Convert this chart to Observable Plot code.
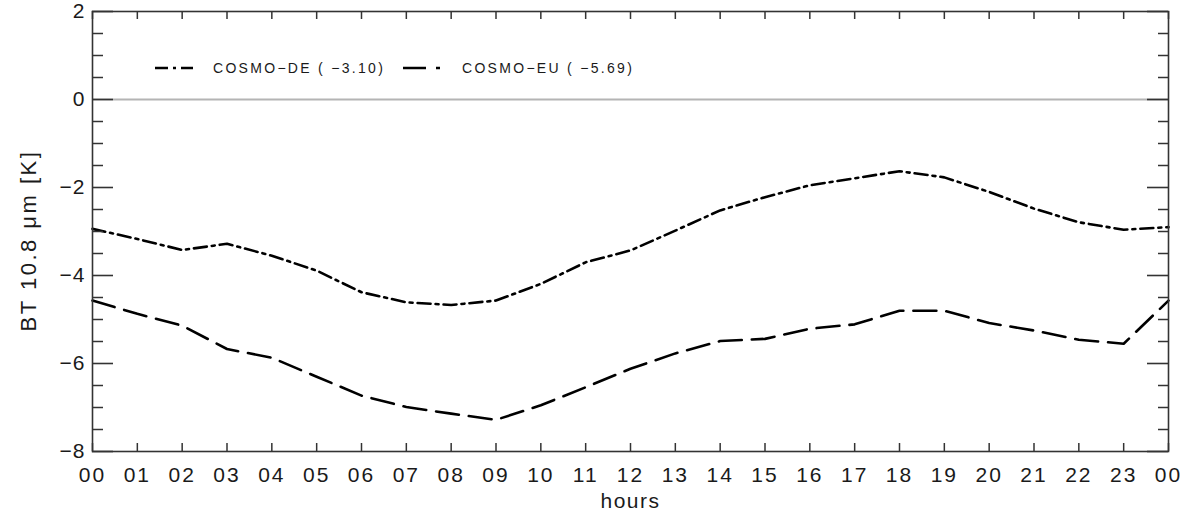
<!DOCTYPE html>
<html><head><meta charset="utf-8">
<script src="https://cdn.jsdelivr.net/npm/d3@7"></script>
<script src="https://cdn.jsdelivr.net/npm/@observablehq/plot@0.6"></script>
<style>body{margin:0;background:#fff} svg{display:block}</style>
</head><body><div id="chart"></div>
<script>
// ---- data ----
const hours = [0,1,2,3,4,5,6,7,8,9,10,11,12,13,14,15,16,17,18,19,20,21,22,23,24];
const hourLabels = ["00","01","02","03","04","05","06","07","08","09","10","11","12","13","14","15","16","17","18","19","20","21","22","23","00"];
const cosmoDE = [-2.94,-3.17,-3.42,-3.28,-3.55,-3.89,-4.38,-4.61,-4.67,-4.57,-4.19,-3.70,-3.43,-2.98,-2.52,-2.22,-1.95,-1.79,-1.63,-1.77,-2.10,-2.48,-2.79,-2.96,-2.90];
const cosmoEU = [-4.57,-4.87,-5.14,-5.67,-5.87,-6.30,-6.73,-6.99,-7.14,-7.28,-6.95,-6.54,-6.12,-5.77,-5.49,-5.44,-5.21,-5.11,-4.80,-4.80,-5.08,-5.25,-5.46,-5.55,-4.57];
const seriesNames = ["COSMO\u2212DE ( \u22123.10)", "COSMO\u2212EU ( \u22125.69)"];
const yMajorTicks = [-8,-6,-4,-2,0,2];
const yMinorTicks = [-7.5,-7,-6.5,-5.5,-5,-4.5,-3.5,-3,-2.5,-1.5,-1,-0.5,0.5,1,1.5];
const xLabel = "hours";
const yLabel = "BT 10.8 \u03bcm [K]";

// ---- layout ----
const W = 1183, H = 515, mL = 92, mR = 15, mT = 11, mB = 64;
const pw = W - mL - mR, ph = H - mT - mB;
const dashDE = "13,5,3,5", dashEU = "23,10";
const axisColor = "#333";
const lineW = 2.6;

const deRows = hours.map((h, i) => ({hour: h, value: cosmoDE[i]}));
const euRows = hours.map((h, i) => ({hour: h, value: cosmoEU[i]}));

const svg = Plot.plot({
  width: W, height: H,
  marginLeft: mL, marginRight: mR, marginTop: mT, marginBottom: mB,
  style: {fontFamily: "'Liberation Sans', Arial, sans-serif", fontSize: "21px", color: "#1a1a1a", background: "#fff"},
  x: {domain: [0, 24]},
  y: {domain: [-8, 2]},
  marks: [
    Plot.ruleY([0], {stroke: "#b4b4b4", strokeWidth: 2}),
    Plot.line(deRows, {x: "hour", y: "value", stroke: "#000", strokeWidth: lineW, strokeDasharray: dashDE}),
    Plot.line(euRows, {x: "hour", y: "value", stroke: "#000", strokeWidth: lineW, strokeDasharray: dashEU}),
    Plot.tickY(yMajorTicks, {y: d => d, insetRight: pw - 21, stroke: axisColor, strokeWidth: 1.6}),
    Plot.tickY(yMajorTicks, {y: d => d, insetLeft: pw - 21, stroke: axisColor, strokeWidth: 1.6}),
    Plot.tickY(yMinorTicks, {y: d => d, insetRight: pw - 11, stroke: axisColor, strokeWidth: 1.5}),
    Plot.tickY(yMinorTicks, {y: d => d, insetLeft: pw - 10, stroke: axisColor, strokeWidth: 1.5}),
    Plot.tickX(hours, {x: d => d, insetTop: ph - 8, stroke: axisColor, strokeWidth: 1.5}),
    Plot.tickX(hours, {x: d => d, insetBottom: ph - 8, stroke: axisColor, strokeWidth: 1.5}),
    Plot.frame({stroke: axisColor, strokeWidth: 1.6}),
    Plot.axisX(hours, {tickSize: 0, tickPadding: 16, tickFormat: (d, i) => hourLabels[i], label: null}),
    Plot.axisY(yMajorTicks, {tickSize: 0, tickPadding: 7, tickFormat: d => d < 0 ? "\u2212" + Math.abs(d) : String(d), label: null}),
    Plot.text([xLabel], {frameAnchor: "bottom", textAnchor: "middle", lineAnchor: "middle", dy: 50, fontSize: 21, className: "xlab"}),
    Plot.text([yLabel], {frameAnchor: "left", textAnchor: "middle", lineAnchor: "middle", rotate: -90, dx: -64, dy: 9, fontSize: 22, className: "ylab"})
  ]
});

const s = d3.select(svg);
s.selectAll("[aria-label='x-axis tick label'] text").attr("letter-spacing", "2px");
s.selectAll("[aria-label='y-axis tick label'] text").attr("letter-spacing", "1px");
s.selectAll(".xlab text").attr("letter-spacing", "1.5px");
s.selectAll(".ylab text").attr("letter-spacing", "2.5px");

// ---- legend (inside plot area, top-left) ----
const legendItems = [
  {name: seriesNames[0], dash: dashDE, x0: 155, x1: 193, tx: 213},
  {name: seriesNames[1], dash: dashEU, x0: 403, x1: 440, tx: 462}
];
const ly = 68;
const lg = s.append("g").attr("aria-label", "legend").attr("text-anchor", "start");
legendItems.forEach(it => {
  lg.append("line").attr("x1", it.x0).attr("x2", it.x1).attr("y1", ly).attr("y2", ly)
    .attr("stroke", "#000").attr("stroke-width", lineW).attr("stroke-dasharray", it.dash);
  lg.append("text").attr("x", it.tx).attr("y", ly).attr("dy", "0.35em").attr("text-anchor", "start")
    .attr("font-size", 14).attr("letter-spacing", "2.3px").attr("fill", "#1a1a1a").text(it.name);
});

document.getElementById("chart").appendChild(svg);
</script>
</body></html>
